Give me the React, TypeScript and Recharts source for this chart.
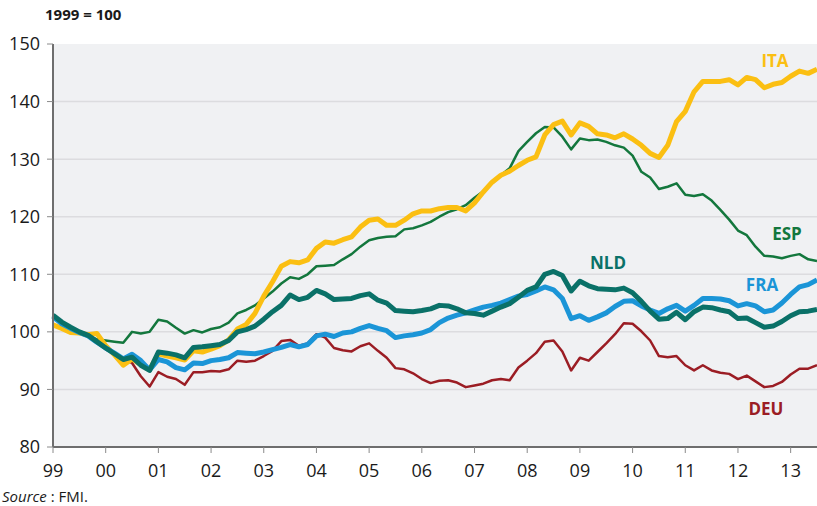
import React from 'react';
import { LineChart, Line, XAxis, YAxis, CartesianGrid } from 'recharts';

// every 2 months, Jan 1999 -> mid 2013 (1999 = 100)
const yearLabels = ['99', '00', '01', '02', '03', '04', '05', '06', '07', '08', '09', '10', '11', '12', '13'];
const yTicks = [80, 90, 100, 110, 120, 130, 140, 150];
const gridValues = [90, 100, 110, 120, 130, 140];

const ita = [
  101.2, 100.6, 99.9, 99.8, 99.5, 99.7, 97.6, 96.0, 94.2, 95.3,
  94.3, 93.4, 96.2, 95.8, 95.5, 95.1, 96.7, 96.5, 97.0, 97.6,
  98.6, 100.5, 101.3, 103.2, 106.2, 108.7, 111.4, 112.2, 112.0, 112.5,
  114.5, 115.6, 115.4, 116.0, 116.5, 118.2, 119.4, 119.6, 118.5, 118.5,
  119.4, 120.5, 121.0, 121.0, 121.4, 121.6, 121.6, 121.0, 122.4, 124.3,
  126.0, 127.2, 127.9, 128.9, 129.8, 130.4, 134.2, 136.0, 136.6, 134.2,
  136.3, 135.7, 134.4, 134.2, 133.7, 134.4, 133.5, 132.4, 131.0, 130.3,
  132.4, 136.5, 138.3, 141.7, 143.5, 143.5, 143.5, 143.8, 142.9, 144.2,
  143.8, 142.4, 143.0, 143.3, 144.4, 145.3, 144.9, 145.6,
];

const esp = [
  102.8, 101.5, 100.6, 99.9, 99.3, 98.7, 98.5, 98.3, 98.1, 100.0,
  99.7, 100.0, 102.1, 101.8, 100.7, 99.7, 100.3, 99.9, 100.5, 100.8,
  101.6, 103.2, 103.8, 104.6, 105.8, 107.0, 108.4, 109.5, 109.2, 110.0,
  111.4, 111.5, 111.6, 112.6, 113.5, 114.8, 115.9, 116.3, 116.5, 116.6,
  117.8, 118.0, 118.5, 119.1, 120.0, 120.8, 121.3, 122.0, 123.3, 124.4,
  125.8, 127.2, 128.4, 131.4, 133.0, 134.5, 135.6, 135.5, 133.9, 131.7,
  133.6, 133.3, 133.4, 133.0, 132.4, 132.0, 130.6, 127.8, 126.8, 124.8,
  125.2, 125.8, 123.8, 123.6, 123.9, 122.8, 121.2, 119.5, 117.6, 116.8,
  114.8, 113.2, 113.1, 112.8, 113.2, 113.5, 112.6, 112.3,
];

const nld = [
  102.9, 101.7, 100.8, 100.0, 99.4, 98.3, 97.2, 96.2, 95.2, 95.6,
  94.2, 93.3, 96.5, 96.3, 96.0, 95.5, 97.3, 97.4, 97.6, 97.8,
  98.5, 100.0, 100.4, 101.0, 102.2, 103.5, 104.6, 106.4, 105.6, 106.0,
  107.2, 106.6, 105.6, 105.7, 105.8, 106.3, 106.6, 105.5, 105.0, 103.7,
  103.6, 103.5, 103.7, 104.0, 104.6, 104.5, 104.0, 103.3, 103.2, 102.9,
  103.6, 104.3, 104.9, 106.0, 107.2, 107.8, 110.0, 110.5, 109.8, 107.1,
  108.8, 108.0, 107.5, 107.4, 107.3, 107.6, 106.8, 105.3, 103.6, 102.2,
  102.3, 103.4, 102.1, 103.5, 104.3, 104.2, 103.8, 103.5, 102.3, 102.4,
  101.6, 100.8, 101.0, 101.8, 102.8, 103.5, 103.6, 103.9,
];

const fra = [
  102.6, 101.4, 100.6, 99.9, 99.3, 98.2, 97.2, 96.3, 95.3, 96.1,
  95.0, 93.4, 95.2, 94.8, 93.8, 93.4, 94.6, 94.5, 95.0, 95.2,
  95.5, 96.4, 96.3, 96.2, 96.5, 96.9, 97.3, 97.8, 97.4, 97.8,
  99.3, 99.6, 99.2, 99.8, 100.0, 100.6, 101.1, 100.6, 100.2, 99.0,
  99.3, 99.5, 99.8, 100.4, 101.6, 102.4, 102.9, 103.3, 103.8, 104.3,
  104.6, 105.0, 105.6, 106.2, 106.5, 107.1, 107.8, 107.3, 105.8, 102.3,
  102.8, 102.0, 102.6, 103.3, 104.4, 105.3, 105.4, 104.5, 103.8, 103.2,
  104.0, 104.6, 103.6, 104.6, 105.8, 105.8, 105.7, 105.4, 104.5, 104.9,
  104.5, 103.5, 103.8, 105.0, 106.5, 107.8, 108.2, 109.0,
];

const deu = [
  102.6, 101.3, 100.5, 99.8, 99.2, 98.1, 97.1, 96.1, 95.2, 94.6,
  92.3, 90.5, 93.0, 92.2, 91.8, 90.8, 93.0, 93.0, 93.2, 93.1,
  93.5, 95.0, 94.8, 95.0, 95.8, 96.7, 98.4, 98.6, 97.6, 98.0,
  99.6, 99.0, 97.2, 96.8, 96.6, 97.5, 98.0, 96.7, 95.5, 93.7,
  93.5, 92.8, 91.8, 91.1, 91.5, 91.6, 91.2, 90.4, 90.7, 91.0,
  91.6, 91.8, 91.6, 93.8, 95.0, 96.3, 98.3, 98.5, 96.6, 93.3,
  95.5, 95.0, 96.5, 98.0, 99.6, 101.5, 101.4, 100.1, 98.5, 95.8,
  95.6, 95.8, 94.2, 93.3, 94.2, 93.3, 92.9, 92.7, 91.8, 92.4,
  91.4, 90.4, 90.6, 91.3, 92.6, 93.6, 93.6, 94.2,
];

const data = ita.map((v, i) => ({
  month: i * 2,
  ITA: v,
  ESP: esp[i],
  NLD: nld[i],
  FRA: fra[i],
  DEU: deu[i],
}));

const xTicks = yearLabels.map((_, i) => i * 12);

const colors = {
  ITA: '#fbbf12',
  ESP: '#13773d',
  NLD: '#0a7168',
  FRA: '#1b95d7',
  DEU: '#9b1d24',
};

const axisStroke = '#6e6e6e';
const font = '"Open Sans", "Noto Sans", sans-serif';

export default function App() {
  return (
    <div style={{ position: 'absolute', left: 0, top: 0, width: 817, height: 506, background: '#fff', fontFamily: font }}>
      <LineChart width={817} height={506} data={data} margin={{ top: 44, right: 0, bottom: 29, left: 0 }}>
        <CartesianGrid
          vertical={false}
          fill="#f0f1f3"
          fillOpacity={1}
          stroke="#dcdcdf"
          strokeWidth={1.5}
          horizontalValues={gridValues}
        />
        <XAxis
          dataKey="month"
          type="number"
          domain={[0, 174]}
          ticks={xTicks}
          interval={0}
          tickFormatter={(m: number) => yearLabels[Math.round(m / 12)]}
          height={30}
          tickSize={6}
          tickMargin={11}
          axisLine={{ stroke: axisStroke, strokeWidth: 2 }}
          tickLine={{ stroke: '#8a8a8a' }}
          tick={{ fill: '#1a1a1a', fontSize: 18, fontFamily: font }}
        />
        <YAxis
          domain={[80, 150]}
          ticks={yTicks}
          interval={0}
          width={53}
          tickSize={6}
          tickMargin={7}
          axisLine={{ stroke: axisStroke, strokeWidth: 2 }}
          tickLine={{ stroke: '#8a8a8a' }}
          tick={{ fill: '#1a1a1a', fontSize: 18, fontFamily: font }}
        />
        <Line dataKey="DEU" stroke={colors.DEU} strokeWidth={2.5} dot={false} isAnimationActive={false} strokeLinejoin="round" />
        <Line dataKey="ESP" stroke={colors.ESP} strokeWidth={2.5} dot={false} isAnimationActive={false} strokeLinejoin="round" />
        <Line dataKey="ITA" stroke={colors.ITA} strokeWidth={5} dot={false} isAnimationActive={false} strokeLinejoin="round" />
        <Line dataKey="FRA" stroke={colors.FRA} strokeWidth={5} dot={false} isAnimationActive={false} strokeLinejoin="round" />
        <Line dataKey="NLD" stroke={colors.NLD} strokeWidth={5} dot={false} isAnimationActive={false} strokeLinejoin="round" />
      </LineChart>
      <svg width={817} height={506} style={{ position: 'absolute', left: 0, top: 0, pointerEvents: 'none' }}>
        <text x={45} y={20} fontSize={15} fontWeight="bold" fill="#1a1a1a" fontFamily={font}>1999 = 100</text>
        <text x={775} y={67} textAnchor="middle" fontSize={17} fontWeight="bold" fill={colors.ITA} fontFamily={font}>ITA</text>
        <text x={787} y={240} textAnchor="middle" fontSize={17} fontWeight="bold" fill={colors.ESP} fontFamily={font}>ESP</text>
        <text x={608} y={269} textAnchor="middle" fontSize={17} fontWeight="bold" fill={colors.NLD} fontFamily={font}>NLD</text>
        <text x={762} y={291} textAnchor="middle" fontSize={17} fontWeight="bold" fill={colors.FRA} fontFamily={font}>FRA</text>
        <text x={766} y={415} textAnchor="middle" fontSize={17} fontWeight="bold" fill={colors.DEU} fontFamily={font}>DEU</text>
        <text x={2} y={502} fontSize={15} fill="#1a1a1a" fontFamily={font}>
          <tspan fontStyle="italic">Source</tspan> : FMI.
        </text>
      </svg>
    </div>
  );
}
